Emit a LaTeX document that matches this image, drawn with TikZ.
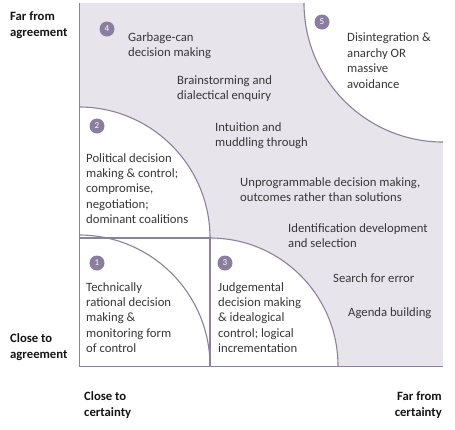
\documentclass[tikz,border=0pt]{standalone}
\usepackage{fontspec}
\setmainfont{Carlito}
\definecolor{bgfill}{RGB}{231,228,236}
\definecolor{edge}{RGB}{140,130,155}
\definecolor{badge}{RGB}{139,125,160}
\definecolor{bodytext}{RGB}{55,55,55}
\definecolor{labeltext}{RGB}{20,20,20}
\tikzset{
  body/.style={anchor=north west, inner sep=0pt, align=left, text=bodytext,
    font=\fontsize{12.7}{15.4}\selectfont},
  axislabel/.style={anchor=north west, inner sep=0pt, align=left, text=labeltext,
    font=\fontsize{12.7}{16}\selectfont\bfseries},
  badgenode/.style={circle, fill=badge, text=white, minimum size=15pt, inner sep=0pt,
    font=\fontsize{9}{9}\selectfont},
  edgeline/.style={draw=edge, line width=1.1pt}
}
\begin{document}
\begin{tikzpicture}[x=1pt,y=-1pt]
\useasboundingbox (0,0) rectangle (455,429);
% background square
\fill[bgfill] (79,3) rectangle (443,366);
% white regions
\fill[white] (79,238) rectangle (210,366);
\fill[white] (79,238) -- (79,107) arc[start angle=-90, end angle=0, radius=131] -- cycle;
\fill[white] (210,366) -- (210,238) arc[start angle=-90, end angle=0, radius=128] -- cycle;
\fill[white] (443,3) -- (304,3) arc[start angle=180, end angle=90, radius=139] -- cycle;
% arcs
\draw[edgeline] (79,107) arc[start angle=-90, end angle=0, radius=131];
\draw[edgeline] (79,235) arc[start angle=-90, end angle=0, radius=131];
\draw[edgeline] (210,238) arc[start angle=-90, end angle=0, radius=128];
\draw[edgeline] (304,3) arc[start angle=180, end angle=90, radius=139];
% box lines
\draw[edgeline] (79,238) -- (210,238) -- (210,366);
\draw[draw=edge, line width=0.8pt] (79,3) -- (79,366) -- (443,366);
% badges
\node[badgenode] (b4) at (107,29) {4};
\node[badgenode] (b5) at (322,22) {5};
\node[badgenode] (b2) at (97,126) {2};
\node[badgenode] (b1) at (97,263) {1};
\node[badgenode] (b3) at (225,263) {3};
% body texts
\node[body] (t4) at (128,32) {Garbage-can\\decision making};
\node[body] (tb) at (177,75) {Brainstorming and\\dialectical enquiry};
\node[body] (ti) at (215,122) {Intuition and\\muddling through};
\node[body] (tu) at (240,177) {Unprogrammable decision making,\\outcomes rather than solutions};
\node[body] (tid) at (288,223) {Identification development\\and selection};
\node[body] (ts) at (333,273) {Search for error};
\node[body] (ta) at (348,307) {Agenda building};
\node[body] (t5) at (347,33) {Disintegration \&\\anarchy OR\\massive\\avoidance};
\node[body] (t2) at (86,153) {Political decision\\making \& control;\\compromise,\\negotiation;\\dominant coalitions};
\node[body] (t1) at (86,282) {Technically\\rational decision\\making \&\\monitoring form\\of control};
\node[body] (t3) at (218,282) {Judgemental\\decision making\\\& idealogical\\control; logical\\incrementation};
% axis labels
\node[axislabel] (fa) at (10,11) {Far from\\agreement};
\node[axislabel] (ca) at (10,333) {Close to\\agreement};
\node[axislabel] (cc) at (84,391) {Close to\\certainty};
\node[axislabel, anchor=north east, align=right] (fc) at (442,391) {Far from\\certainty};
\end{tikzpicture}
\end{document}
